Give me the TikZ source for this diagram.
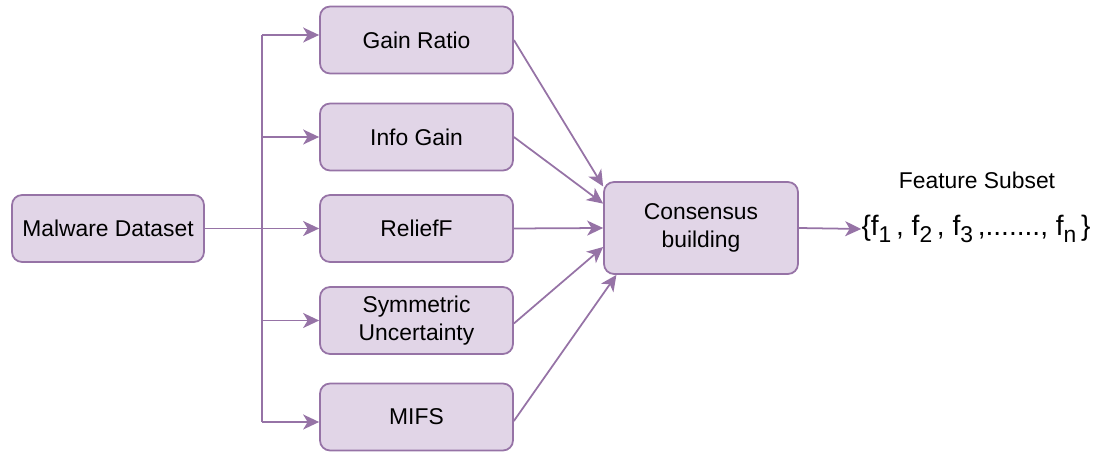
\documentclass[tikz,border=0pt]{standalone}
\usepackage{fontspec}
\setmainfont{Liberation Sans}
\usepackage{tikz}
\usetikzlibrary{arrows.meta,positioning,calc}

\definecolor{boxfill}{HTML}{E1D5E7}
\definecolor{boxline}{HTML}{9673A6}
\newcommand{\fsub}[1]{\raisebox{-4pt}{\fontsize{13}{15}\selectfont #1}}

\begin{document}
\begin{tikzpicture}[
  x=0.02cm, y=-0.02cm,
  box/.style={draw=boxline, fill=boxfill, line width=1pt, rounded corners=0.2cm, minimum width=3.86cm, minimum height=1.34cm, align=center, font=\fontsize{13}{15.6}\selectfont, inner sep=2pt},
  arrow/.style={-{Stealth[length=0.32cm, width=0.3cm, inset=0.09cm]}, draw=boxline, line width=1pt}
]
\useasboundingbox (0,0) rectangle (1096,452);

\node[box, minimum width=3.84cm] (md) at (108, 228.5) {Malware Dataset};

\node[box] (gr) at (416.5, 40) {Gain Ratio};
\node[box] (ig) at (416.5, 137) {Info Gain};
\node[box] (rf) at (416.5, 228.5) {ReliefF};
\node[box] (su) at (416.5, 320.5) {Symmetric\\Uncertainty};
\node[box] (mifs) at (416.5, 417) {MIFS};

\node[box, minimum width=3.88cm, minimum height=1.84cm] (cons) at (701, 228) {Consensus\\building};

\node[font=\fontsize{13}{15.6}\selectfont] (fslabel) at (977, 180) {Feature Subset};
\node[font=\fontsize{16}{19}\selectfont, inner sep=0pt] (fset) at (976, 229)
  {\{f\fsub{1}\,, f\fsub{2}\,, f\fsub{3}\,,......., f\fsub{n}\,\}};

% split the dataset to the five rankers
\coordinate (split) at (262, 228.5);
\draw[boxline, line width=1pt] (md.east) -- (split);
\draw[boxline, line width=1pt] (split) -- (262, 35) coordinate (ttop);
\draw[boxline, line width=1pt] (split) -- (262, 422) coordinate (tbot);
\draw[arrow] (ttop) -- ([yshift=0.1cm]gr.west);
\draw[arrow] (split |- ig.west) -- (ig.west);
\draw[arrow] (split) -- (rf.west);
\draw[arrow] (split |- su.west) -- (su.west);
\draw[arrow] (tbot) -- ([yshift=-0.1cm]mifs.west);

% rankers into consensus
\draw[arrow] (gr.east) -- (cons.157.8);
\draw[arrow] (ig.east) -- (cons.166.2);
\draw[arrow] (rf.east) -- (cons.west);
\draw[arrow] ([yshift=-0.06cm]su.east) -- (cons.191.6);
\draw[arrow] ([yshift=-0.08cm]mifs.east) -- (cons.209.2);

\draw[arrow] (cons.east) -- (fset.west);

\end{tikzpicture}
\end{document}
